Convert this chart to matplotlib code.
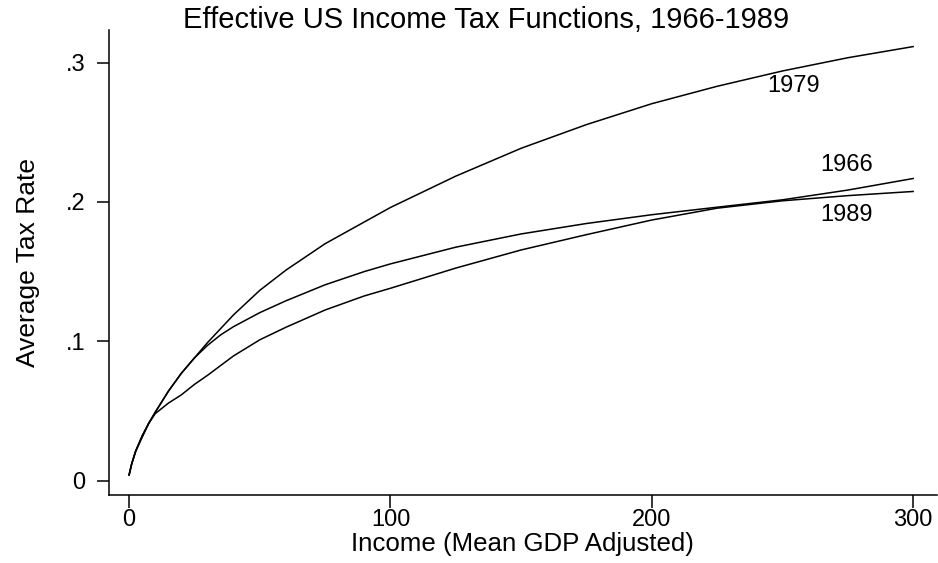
import matplotlib
matplotlib.use("Agg")
import matplotlib.pyplot as plt

plt.rcParams['font.family'] = ['Liberation Sans', 'DejaVu Sans']

# income grid (mean GDP adjusted) and average tax rates per year
income = [0, 1, 2.5, 5, 7.5, 10, 15, 20, 25, 30, 35, 40, 50, 60, 75, 90, 100,
          125, 150, 175, 200, 225, 250, 275, 300]
rate_1979 = [0.004, 0.012, 0.021, 0.032, 0.041, 0.049, 0.064, 0.077, 0.088, 0.099,
             0.109, 0.119, 0.1365, 0.151, 0.170, 0.1856, 0.196,
             0.2185, 0.2385, 0.2555, 0.2705, 0.283, 0.294, 0.3035, 0.3115]
rate_1966 = [0.004, 0.012, 0.021, 0.032, 0.041, 0.049, 0.064, 0.077, 0.088, 0.097,
             0.1045, 0.1105, 0.1205, 0.129, 0.1405, 0.150, 0.1555,
             0.1675, 0.177, 0.1845, 0.1908, 0.1962, 0.2015, 0.2085, 0.2168]
rate_1989 = [0.004, 0.012, 0.021, 0.031, 0.041, 0.048, 0.0555, 0.0615, 0.069, 0.0755,
             0.0825, 0.0895, 0.101, 0.110, 0.1224, 0.1325, 0.138,
             0.1525, 0.1655, 0.1765, 0.187, 0.1955, 0.2008, 0.2045, 0.2075]

years = ['1979', '1966', '1989']
series = [rate_1979, rate_1966, rate_1989]
label_pos = [(254.4, 0.2832), (274.5, 0.2265), (274.5, 0.1906)]

xticks = [0, 100, 200, 300]
yticks = [0, 0.1, 0.2, 0.3]
ytick_labels = ['0', '.1', '.2', '.3']


def main():
    fig = plt.figure(figsize=(9.38, 5.63), dpi=100)
    ax = fig.add_axes([0.1159, 0.1208, 0.8827, 0.8259])

    for rates in series:
        ax.plot(income, rates, color='black', lw=1.1)
    for yr, (lx, ly) in zip(years, label_pos):
        ax.text(lx, ly, yr, ha='center', va='center', fontsize=17)

    ax.set_xlim(-7.8, 309)
    ax.set_ylim(-0.0104, 0.3234)
    ax.set_xticks(xticks)
    ax.set_xticklabels([str(t) for t in xticks])
    ax.set_yticks(yticks)
    ax.set_yticklabels(ytick_labels)
    ax.tick_params(axis='both', length=9, width=1.1, labelsize=17, colors='black')
    ax.tick_params(axis='x', pad=1)
    ax.tick_params(axis='y', pad=8)

    for side in ('top', 'right'):
        ax.spines[side].set_visible(False)
    for side in ('left', 'bottom'):
        ax.spines[side].set_linewidth(1.1)

    ax.set_xlabel('Income (Mean GDP Adjusted)', fontsize=18.6, labelpad=1)
    ax.set_ylabel('Average Tax Rate', fontsize=19, labelpad=18)
    fig.text(486 / 938, 1 - 20 / 563, 'Effective US Income Tax Functions, 1966-1989',
             ha='center', va='center', fontsize=21)

    fig.savefig('out.png', dpi=100)


if __name__ == "__main__":
    main()
